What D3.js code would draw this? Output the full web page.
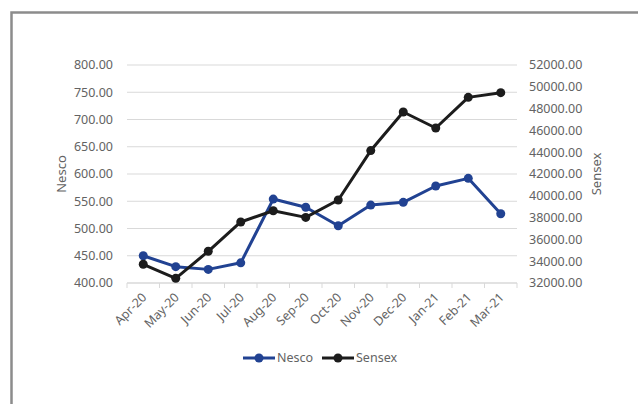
<!DOCTYPE html>
<html>
<head>
<meta charset="UTF-8">
<title>Nesco vs Sensex</title>
<script src="https://d3js.org/d3.v7.min.js"></script>
<style>
html, body { margin: 0; padding: 0; background: #fff; }
svg { font-family: 'Noto Sans', sans-serif; display: block; }
</style>
</head>
<body>
<script>
// data
var months = ["Apr-20","May-20","Jun-20","Jul-20","Aug-20","Sep-20","Oct-20","Nov-20","Dec-20","Jan-21","Feb-21","Mar-21"];
var nesco = [450, 430, 425, 437, 554, 539, 505, 543, 548, 578, 592, 527];
var sensex = [33720, 32430, 34910, 37600, 38630, 38020, 39610, 44150, 47690, 46220, 49030, 49460];
var leftTicks = [400, 450, 500, 550, 600, 650, 700, 750, 800];
var rightTicks = [32000, 34000, 36000, 38000, 40000, 42000, 44000, 46000, 48000, 50000, 52000];

var W = 638, H = 404;
var m = {top: 65, right: 121, bottom: 121, left: 127};
var txt = "#636363";

var svg = d3.select("body").append("svg")
    .attr("width", W)
    .attr("height", H);

// outer frame (only top + left show in the crop)
svg.append("path")
    .attr("d", "M11.5,404 V12.5 H638")
    .attr("fill", "none")
    .attr("stroke", "#8c8c8c")
    .attr("stroke-width", 2.5);

var x = d3.scaleBand().domain(months).range([m.left, W - m.right]);
var yL = d3.scaleLinear().domain([400, 800]).range([H - m.bottom, m.top]);
var yR = d3.scaleLinear().domain([32000, 52000]).range([H - m.bottom, m.top]);

// gridlines
svg.append("g").selectAll("line")
    .data(leftTicks.slice(1))
    .join("line")
    .attr("x1", m.left).attr("x2", W - m.right)
    .attr("y1", d => yL(d)).attr("y2", d => yL(d))
    .attr("stroke", "#d9d9d9").attr("stroke-width", 1);

// x axis
var xAxis = svg.append("g")
    .attr("transform", "translate(0," + (H - m.bottom) + ")");
xAxis.append("line")
    .attr("x1", m.left).attr("x2", W - m.right)
    .attr("stroke", "#d9d9d9").attr("stroke-width", 1.5);
xAxis.selectAll(".tk")
    .data(months.concat(["end"]))
    .join("line")
    .attr("x1", (d, i) => m.left + i * x.step())
    .attr("x2", (d, i) => m.left + i * x.step())
    .attr("y1", 0).attr("y2", 5)
    .attr("stroke", "#d9d9d9");
xAxis.selectAll("text")
    .data(months)
    .join("text")
    .attr("transform", d => "translate(" + (x(d) + x.bandwidth() / 2 + 1) + ",12) rotate(-45)")
    .attr("text-anchor", "end")
    .attr("dy", "0.35em")
    .attr("font-size", 12.5)
    .attr("fill", txt)
    .text(d => d);

// left labels
svg.append("g").selectAll("text")
    .data(leftTicks)
    .join("text")
    .attr("x", 113)
    .attr("y", d => yL(d))
    .attr("dy", "0.35em")
    .attr("text-anchor", "end")
    .attr("font-size", 12.5)
    .attr("fill", txt)
    .text(d => d3.format(".2f")(d));

// right labels
svg.append("g").selectAll("text")
    .data(rightTicks)
    .join("text")
    .attr("x", 529)
    .attr("y", d => yR(d))
    .attr("dy", "0.35em")
    .attr("text-anchor", "start")
    .attr("font-size", 12.5)
    .attr("fill", txt)
    .text(d => d3.format(".2f")(d));

// axis titles
svg.append("text")
    .attr("transform", "translate(66,174) rotate(-90)")
    .attr("text-anchor", "middle")
    .attr("font-size", 13)
    .attr("fill", txt)
    .text("Nesco");
svg.append("text")
    .attr("transform", "translate(601,174) rotate(-90)")
    .attr("text-anchor", "middle")
    .attr("font-size", 13)
    .attr("fill", txt)
    .text("Sensex");

var cx = d => x(d) + x.bandwidth() / 2;

function drawSeries(vals, y, color) {
    var g = svg.append("g");
    g.append("path")
        .datum(vals)
        .attr("fill", "none")
        .attr("stroke", color)
        .attr("stroke-width", 3)
        .attr("stroke-linejoin", "round")
        .attr("d", d3.line().x((d, i) => cx(months[i])).y(d => y(d)));
    g.selectAll("circle")
        .data(vals)
        .join("circle")
        .attr("cx", (d, i) => cx(months[i]))
        .attr("cy", d => y(d))
        .attr("r", 4.5)
        .attr("fill", color);
}
drawSeries(nesco, yL, "#214292");
drawSeries(sensex, yR, "#1c1c1c");

// legend
var legend = [["Nesco", "#214292", 243], ["Sensex", "#1c1c1c", 322]];
var lg = svg.append("g").selectAll("g")
    .data(legend)
    .join("g")
    .attr("transform", d => "translate(" + d[2] + ",358)");
lg.append("line")
    .attr("x1", 0).attr("x2", 32)
    .attr("stroke", d => d[1]).attr("stroke-width", 3);
lg.append("circle")
    .attr("cx", 16).attr("r", 4.5)
    .attr("fill", d => d[1]);
lg.append("text")
    .attr("x", 34)
    .attr("dy", "0.35em")
    .attr("font-size", 12.5)
    .attr("fill", txt)
    .text(d => d[0]);
</script>
</body>
</html>
